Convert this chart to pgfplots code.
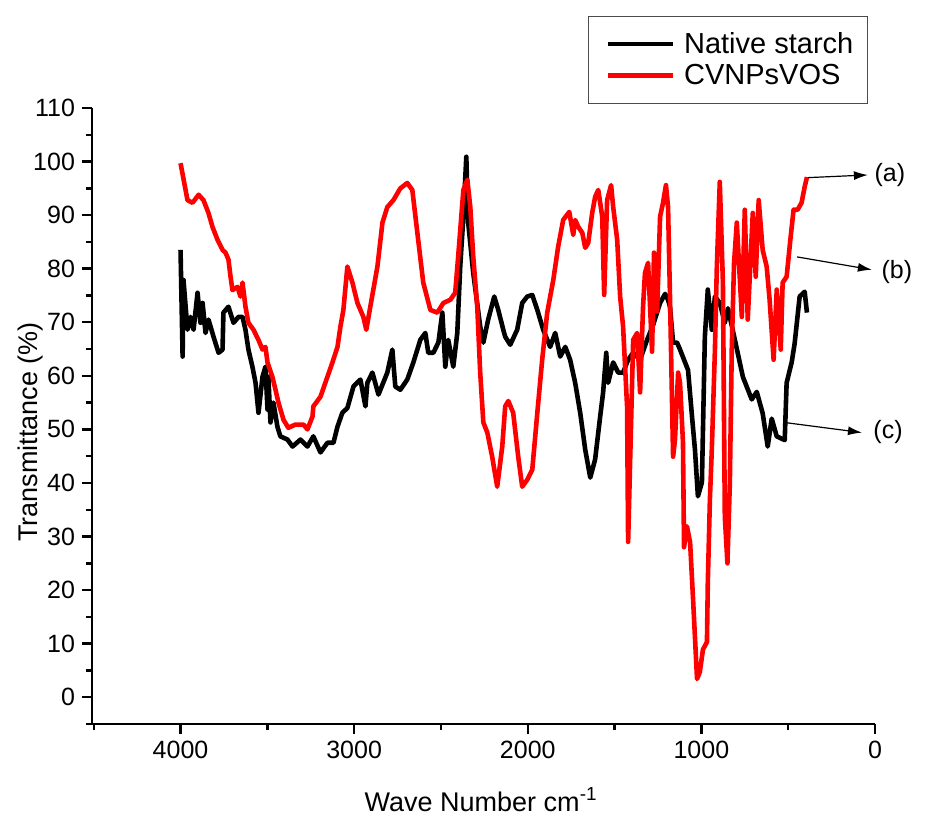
\documentclass[border=0pt]{standalone}
\usepackage{fontspec}
\setmainfont{Liberation Sans}
\usepackage{pgfplots}
\pgfplotsset{compat=1.18}
\usetikzlibrary{arrows.meta}
\begin{document}
\begin{tikzpicture}
\useasboundingbox (-46pt,-49.5pt) rectangle (424pt,362pt);
\begin{axis}[
 at={(0pt,0pt)}, anchor=south west,
 scale only axis, width=391.5pt, height=308pt,
 x dir=reverse, xmin=0, xmax=4510, ymin=-5, ymax=110,
 axis x line*=bottom, axis y line*=left,
 axis line style={line width=1.3pt},
 xtick={0,1000,2000,3000,4000}, minor xtick={500,1500,2500,3500,4500},
 ytick={0,10,...,110}, minor ytick={-5,5,...,105},
 tick align=outside, major tick length=5pt, minor tick length=3pt,
 tick style={line width=1.2pt, black},
 tick label style={font=\fontsize{12.5}{15}\selectfont},
 /pgf/number format/assume math mode=true,
 /pgf/number format/1000 sep={},
 xlabel={Wave Number cm\textsuperscript{-1}},
 ylabel={Transmittance (\%)},
 label style={font=\fontsize{13.5}{16}\selectfont},
 xlabel style={at={(axis description cs:0.497,-0.123)}, anchor=center},
 ylabel style={at={(axis description cs:-0.079,0.474)}, anchor=center},
 clip=false,
 legend style={at={(0.991,1.0065)}, anchor=south east, draw=black!70, line width=0.6pt,
   font=\fontsize{14.5}{17}\selectfont, inner xsep=5pt, inner ysep=6pt, cells={anchor=west}},
 legend image code/.code={\draw[#1] (0pt,0pt) -- (32.5pt,0pt); \path (-3.5pt,0pt) (35pt,0pt);},
]
\addplot[black, line width=2.3pt, line join=round] table {
4000 83.5
3988 63.6
3983 77.9
3960 68.6
3942 71
3925 68.6
3902 75.5
3885 69.9
3873 73.6
3856 68
3839 70.5
3810 67.3
3781 64.3
3758 64.9
3753 71.8
3724 72.9
3695 69.9
3666 71
3643 71
3626 68.6
3609 64.9
3586 61.7
3568 58.7
3551 53.1
3528 59.8
3511 61.7
3499 53.7
3494 59.8
3482 51.3
3465 55
3442 50.5
3425 48.7
3384 48.1
3355 46.8
3309 48.1
3269 46.8
3235 48.7
3194 45.7
3154 47.5
3119 47.5
3096 50.5
3068 53.1
3039 54
3004 58
2964 59.3
2935 54.3
2924 58.7
2895 60.6
2860 56.5
2809 60.6
2780 64.9
2763 58
2734 57.4
2694 59.3
2659 62.5
2619 66.7
2590 68
2573 64.3
2544 64.3
2515 66.2
2492 71.8
2475 61.7
2458 66.7
2429 61.7
2406 68
2389 80.4
2371 89.7
2354 100.9
2343 88.6
2314 79.2
2274 69.2
2256 66.2
2228 70.5
2193 74.8
2170 72.3
2141 68.6
2130 67.3
2101 65.8
2061 68.6
2032 73.6
2003 74.8
1974 75.1
1945 72.3
1911 68.6
1871 65.4
1842 68
1813 63.6
1784 65.4
1756 63
1727 58.7
1698 53.1
1669 46.2
1640 41
1612 44.4
1583 52.4
1566 56.9
1548 64.3
1537 58.7
1508 62.5
1479 60.6
1451 60.6
1422 63
1393 64.3
1353 63
1313 66.7
1278 69.5
1238 73.6
1209 75.3
1192 74.2
1181 72.9
1163 66.2
1140 66.2
1123 64.9
1094 62.5
1077 61.1
1054 52.4
1037 46.2
1020 37.5
997 40.1
980 67.3
963 76.1
940 68.6
922 74.8
894 73.6
865 69.9
847 72.6
807 66.7
761 59.8
710 55.6
681 57
647 53
618 46.8
595 52
566 48.7
520 48
509 58.7
480 62.5
463 66
434 74.8
405 75.7
392 71.8
};
\addlegendentry{Native starch}
\addplot[red, line width=2.3pt, line join=round] table {
4000 99.7
3960 92.8
3931 92.3
3896 93.8
3868 92.8
3839 90.4
3816 87.8
3787 85.4
3758 83.5
3741 83
3724 81.7
3712 78.5
3701 76
3672 76.6
3655 74.8
3643 77.4
3626 72.9
3609 69.9
3580 68.6
3551 66.7
3528 64.9
3511 65.4
3499 62.5
3471 59.8
3453 57.4
3436 55
3407 51.8
3379 50.3
3338 50.9
3292 50.9
3269 50
3240 52.4
3235 54.3
3194 56.1
3166 58.7
3125 62.5
3096 65.4
3079 69.2
3062 72.3
3039 80.4
3010 77.4
2981 73.6
2947 71
2930 68.6
2907 72.9
2866 80.4
2837 88.6
2809 91.5
2774 92.8
2734 95
2694 96
2665 94.7
2636 86.7
2602 77.4
2561 72.3
2521 71.8
2486 73.6
2446 74.2
2418 75.5
2401 82.2
2371 94.7
2348 96.6
2331 91.5
2314 82.2
2291 72.9
2274 60.6
2256 51.3
2233 49.4
2205 44.9
2176 39.3
2147 46.8
2130 54.3
2112 55.3
2084 53.1
2055 44.9
2032 39.3
2003 40.6
1974 42.5
1945 53.1
1917 63
1888 71.8
1853 77.9
1825 84.1
1796 89.1
1761 90.6
1738 86.3
1727 89.1
1709 87.8
1686 86.7
1669 83.9
1652 84.8
1629 90.4
1612 93.4
1594 94.7
1571 89.7
1560 75.1
1543 92.8
1520 95.6
1508 91.5
1485 85.4
1468 74.8
1451 69.2
1428 54.3
1422 29
1393 66.7
1370 68
1353 56.9
1336 72.9
1325 79.2
1307 81.1
1284 64.5
1273 83
1255 72
1238 89.7
1221 92.3
1204 95.6
1192 91.5
1181 75
1163 44.9
1152 48.1
1134 60.6
1123 58.7
1106 47.5
1100 28
1083 31.9
1065 28.9
1048 18.3
1025 3.4
1009 4.7
991 8.9
968 10.3
963 21.4
951 36.9
940 46.2
922 64.9
911 80.4
894 96.2
876 77.4
865 33.7
850 25
836 40.1
825 65
812 81
796 88.6
767 71
750 91
733 70.5
704 90.4
687 78.5
670 92.8
647 83.5
624 80.4
607 74.2
584 63
566 76.1
543 64.9
532 77.4
509 78.5
486 85.9
469 91
446 91
423 92.3
405 95.3
392 97.1
};
\addlegendentry{CVNPsVOS}
\draw[-{Latex[length=7pt,width=4.5pt]}, line width=0.6pt] (axis cs:386,97) -- (axis cs:41,97.5);
\node[font=\fontsize{12.5}{15}\selectfont] at (axis cs:-86,97.5) {(a)};
\draw[-{Latex[length=7pt,width=4.5pt]}, line width=0.6pt] (axis cs:449,82.2) -- (axis cs:18,79.8);
\node[font=\fontsize{12.5}{15}\selectfont] at (axis cs:-126,79.4) {(b)};
\draw[-{Latex[length=7pt,width=4.5pt]}, line width=0.6pt] (axis cs:524,51.3) -- (axis cs:75,49.4);
\node[font=\fontsize{12.5}{15}\selectfont] at (axis cs:-75,49.6) {(c)};
\end{axis}
\end{tikzpicture}
\end{document}
